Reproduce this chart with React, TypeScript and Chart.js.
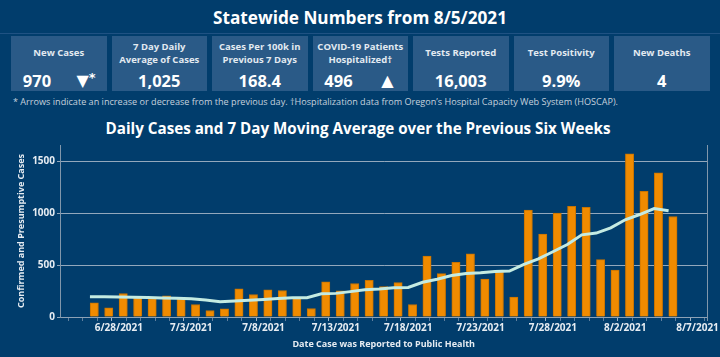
import React, { useEffect, useRef } from "react";
import { Chart, registerables } from "chart.js";

Chart.register(...registerables);

// ---------- DATA ----------
const REPORT_DATES = [
  "6/26/2021", "6/27/2021", "6/28/2021", "6/29/2021", "6/30/2021",
  "7/1/2021", "7/2/2021", "7/3/2021", "7/4/2021", "7/5/2021", "7/6/2021", "7/7/2021",
  "7/8/2021", "7/9/2021", "7/10/2021", "7/11/2021", "7/12/2021", "7/13/2021", "7/14/2021",
  "7/15/2021", "7/16/2021", "7/17/2021", "7/18/2021", "7/19/2021", "7/20/2021", "7/21/2021",
  "7/22/2021", "7/23/2021", "7/24/2021", "7/25/2021", "7/26/2021", "7/27/2021", "7/28/2021",
  "7/29/2021", "7/30/2021", "7/31/2021", "8/1/2021", "8/2/2021", "8/3/2021", "8/4/2021",
  "8/5/2021",
];

const DAILY_CASES = [
  137, 89, 227, 185, 176, 205, 191, 121, 63, 79,
  272, 217, 262, 256, 185, 82, 340, 253, 323, 355,
  293, 333, 121, 587, 419, 528, 610, 365, 432, 193,
  1031, 801, 1002, 1069, 1058, 554, 452, 1575, 1214, 1391,
  970,
];

const MOVING_AVG = [
  196, 195, 193, 190, 187, 184, 180, 176, 165, 148,
  155, 162, 170, 178, 185, 186, 224, 228, 245, 262,
  270, 282, 285, 335, 365, 400, 420, 428, 440, 444,
  507, 561, 630, 700, 793, 810, 861, 938, 989, 1047,
  1025,
];

const X_TICK_LABELS = [
  "6/28/2021", "7/3/2021", "7/8/2021", "7/13/2021", "7/18/2021",
  "7/23/2021", "7/28/2021", "8/2/2021", "8/7/2021",
];

const Y_TICKS = [0, 500, 1000, 1500];

const KPI_LABELS = [
  "New Cases",
  "7 Day Daily\nAverage of Cases",
  "Cases Per 100k in\nPrevious 7 Days",
  "COVID-19 Patients\nHospitalized†",
  "Tests Reported",
  "Test Positivity",
  "New Deaths",
];
const KPI_VALUES = ["970", "1,025", "168.4", "496", "16,003", "9.9%", "4"];
const KPI_ARROWS = ["▼", "", "", "▲", "", "", ""];
const KPI_MARKS = ["*", "", "", "", "", "", ""];

const MAIN_TITLE = "Statewide Numbers from 8/5/2021";
const FOOTNOTE =
  "* Arrows indicate an increase or decrease from the previous day. †Hospitalization data from Oregon’s Hospital Capacity Web System (HOSCAP).";
const CHART_TITLE = "Daily Cases and 7 Day Moving Average over the Previous Six Weeks";
const Y_TITLE = "Confirmed and Presumptive Cases";
const X_TITLE = "Date Case was Reported to Public Health";

// ---------- helpers ----------
const dayOf = (s: string) => {
  const [m, d, y] = s.split("/").map(Number);
  const [m0, d0, y0] = REPORT_DATES[0].split("/").map(Number);
  return Math.round((Date.UTC(y, m - 1, d) - Date.UTC(y0, m0 - 1, d0)) / 86400000);
};

const FONT = '"Open Sans", "DejaVu Sans", sans-serif';
const BG = "#013d6c";
const BOX = "#2a5a87";
const BAR_SHIFT = 0.3;
const X_MIN = -2.07;
const X_MAX = 42.68;
const Y_MAX = 1660;

const rightBorder = {
  id: "rightBorder",
  afterDraw(chart: any) {
    const { ctx, chartArea: a } = chart;
    ctx.save();
    ctx.strokeStyle = "#8197ab";
    ctx.lineWidth = 1;
    const x = Math.round(a.right) + 0.5;
    ctx.beginPath();
    ctx.moveTo(x, a.top);
    ctx.lineTo(x, a.bottom + 4);
    ctx.stroke();
    ctx.restore();
  },
};

export default function App() {
  const ref = useRef<HTMLCanvasElement>(null);

  useEffect(() => {
    const canvas = ref.current!;
    const barPts = DAILY_CASES.map((v, i) => ({ x: dayOf(REPORT_DATES[i]) + BAR_SHIFT, y: v }));
    const linePts = MOVING_AVG.map((v, i) => ({ x: dayOf(REPORT_DATES[i]), y: v }));
    const tickDays = X_TICK_LABELS.map(dayOf);
    const labelColor = "#e6ecf2";

    const chart = new Chart(canvas, {
      type: "bar",
      data: {
        datasets: [
          {
            type: "line",
            label: "7 Day Moving Average",
            data: linePts,
            borderColor: "#c4ebe2",
            borderWidth: 3,
            pointRadius: 0,
            tension: 0,
            order: 0,
          } as any,
          {
            type: "bar",
            label: "Daily Cases",
            data: barPts,
            backgroundColor: "#f08b00",
            borderColor: "#c87300",
            borderWidth: 1,
            barThickness: 8.3,
            order: 1,
          } as any,
        ],
      },
      options: {
        animation: false,
        responsive: false,
        maintainAspectRatio: false,
        layout: { padding: { top: 9, right: 12, left: 0, bottom: 0 } },
        plugins: {
          legend: { display: false },
          tooltip: { enabled: false },
        },
        scales: {
          x: {
            type: "linear",
            min: X_MIN,
            max: X_MAX,
            offset: false,
            afterBuildTicks: (s: any) => {
              const t: any[] = [];
              for (let d = Math.ceil(X_MIN); d <= Math.floor(X_MAX); d++) t.push({ value: d });
              s.ticks = t;
            },
            afterFit: (s: any) => {
              s.height = 40;
            },
            ticks: {
              autoSkip: false,
              maxRotation: 0,
              minRotation: 0,
              padding: 1,
              color: labelColor,
              font: { family: FONT, size: 10, weight: "bold" },
              callback: (v: any) => {
                const k = tickDays.indexOf(Math.round(Number(v)));
                return k >= 0 && Math.abs(Number(v) - tickDays[k]) < 1e-6 ? X_TICK_LABELS[k] : "";
              },
            },
            grid: {
              drawOnChartArea: false,
              drawTicks: true,
              tickLength: 4,
              tickColor: (c: any) =>
                tickDays.includes(Math.round(c.tick?.value ?? -99)) ? "#9fb2c4" : "#5f7f9e",
            },
            border: { display: true, color: "#8da2b6", dash: [1, 2], width: 1 },
            title: {
              display: true,
              text: X_TITLE,
              color: labelColor,
              font: { family: FONT, size: 9, weight: "bold" },
              padding: { top: 0, bottom: 7 },
            },
          } as any,
          y: {
            min: 0,
            max: Y_MAX,
            afterBuildTicks: (s: any) => {
              s.ticks = Y_TICKS.map((v) => ({ value: v }));
            },
            afterFit: (s: any) => {
              s.width = 60;
            },
            ticks: {
              padding: 2,
              color: labelColor,
              font: { family: FONT, size: 10, weight: "bold" },
              callback: (v: any) => String(v),
            },
            grid: {
              drawTicks: true,
              tickLength: 3,
              color: (c: any) => (c.tick && c.tick.value === 0 ? "rgba(0,0,0,0)" : "#93a8bc"),
              tickColor: "#93a8bc",
              lineWidth: 1,
            },
            border: { display: true, color: "#8197ab", width: 1 },
            title: {
              display: true,
              text: Y_TITLE,
              color: labelColor,
              font: { family: FONT, size: 9, weight: "bold" },
              padding: { top: 16, bottom: 0 },
            },
          } as any,
        },
      },
      plugins: [rightBorder],
    });
    return () => chart.destroy();
  }, []);

  return (
    <div
      style={{
        position: "absolute",
        left: 0,
        top: 0,
        width: 720,
        height: 357,
        background: BG,
        overflow: "hidden",
        fontFamily: FONT,
        color: "#ffffff",
      }}
    >
      <div
        style={{
          position: "absolute",
          left: 0,
          top: 0,
          width: 720,
          height: 36,
          lineHeight: "36px",
          textAlign: "center",
          fontSize: 17.2,
          fontWeight: 700,
        }}
      >
        {MAIN_TITLE}
      </div>
      <div style={{ position: "absolute", left: 0, top: 33, width: 720, height: 1, background: "#1f5283" }} />
      {KPI_LABELS.map((lab, i) => (
        <div
          key={i}
          style={{
            position: "absolute",
            left: 11 + i * 100.5,
            top: 36,
            width: 95.5,
            height: 55,
            background: BOX,
          }}
        >
          <div
            style={{
              position: "absolute",
              left: 0,
              top: 0,
              width: "100%",
              height: 33,
              display: "flex",
              alignItems: "center",
              justifyContent: "center",
              textAlign: "center",
              whiteSpace: "pre-line",
              fontSize: 9.5,
              lineHeight: "13px",
              fontWeight: 700,
              color: "#e3eaf1",
            }}
          >
            {lab}
          </div>
          {KPI_ARROWS[i] ? (
            <>
              <div
                style={{
                  position: "absolute",
                  left: 0,
                  top: 33,
                  width: 52,
                  height: 24,
                  lineHeight: "24px",
                  textAlign: "center",
                  fontSize: 16.5,
                  fontWeight: 700,
                }}
              >
                {KPI_VALUES[i]}
              </div>
              <div
                style={{
                  position: "absolute",
                  left: 62,
                  top: 33,
                  width: 26,
                  height: 24,
                  lineHeight: "24px",
                  textAlign: "center",
                  fontSize: 16,
                  fontWeight: 700,
                  whiteSpace: "nowrap",
                  fontFamily: '"DejaVu Sans", sans-serif',
                }}
              >
                {KPI_ARROWS[i]}
                {KPI_MARKS[i] ? (
                  <span style={{ fontSize: 13, verticalAlign: "top", position: "relative", top: -3 }}>
                    {KPI_MARKS[i]}
                  </span>
                ) : null}
              </div>
            </>
          ) : (
            <div
              style={{
                position: "absolute",
                left: 0,
                top: 33,
                width: "100%",
                height: 24,
                lineHeight: "24px",
                textAlign: "center",
                fontSize: 16.5,
                fontWeight: 700,
              }}
            >
              {KPI_VALUES[i]}
            </div>
          )}
        </div>
      ))}
      <div
        style={{
          position: "absolute",
          left: 13,
          top: 95,
          height: 13,
          lineHeight: "13px",
          fontSize: 9.1,
          color: "#c6d1dd",
          whiteSpace: "nowrap",
        }}
      >
        {FOOTNOTE}
      </div>
      <div
        style={{
          position: "absolute",
          left: 0,
          top: 118,
          width: 716,
          height: 20,
          lineHeight: "20px",
          textAlign: "center",
          fontSize: 15.2,
          fontWeight: 700,
        }}
      >
        {CHART_TITLE}
      </div>
      <canvas
        ref={ref}
        width={720}
        height={221}
        style={{ position: "absolute", left: 0, top: 136, width: 720, height: 221 }}
      />
    </div>
  );
}
